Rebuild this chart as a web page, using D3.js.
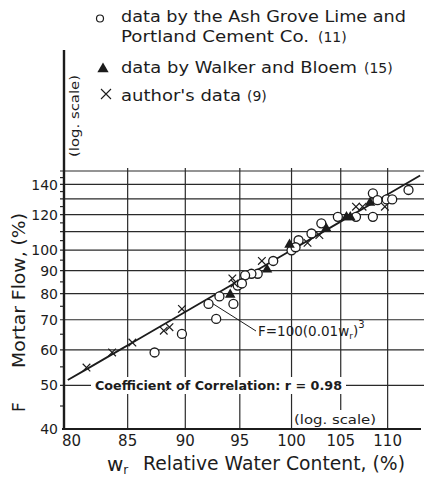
<!DOCTYPE html>
<html>
<head>
<meta charset="utf-8">
<script src="https://cdn.jsdelivr.net/npm/d3@7"></script>
<style>
  body { margin: 0; background: #fff; }
  svg { display: block; }
  text { font-family: "DejaVu Sans", sans-serif; fill: #1c1c1c; }
</style>
</head>
<body>
<svg id="chart" width="424" height="480"></svg>
<script>
// Axis ticks and grid values (both axes logarithmic)
const xTickValues = [80, 85, 90, 95, 100, 105, 110];
const xGridValues = [85, 90, 95, 100, 105, 110];
const yTickValues = [40, 50, 60, 70, 80, 90, 100, 120, 140];
const yGridValues = [50, 60, 70, 80, 90, 100, 110, 120, 130, 140, 150];
const yMinorValues = [45, 55, 65, 75, 85, 95, 105, 115, 125, 135, 145];

// Ash Grove Lime and Portland Cement Co. data: relative water content w_r (%), mortar flow F (%)
const ashGroveW = [112.3, 108.4, 108.9, 109.9, 110.5, 108.4, 106.6, 104.7, 103.0, 102.0, 100.7, 100.0, 100.4, 98.2, 96.7, 96.1, 95.5, 94.8, 95.2, 93.1, 92.1, 94.4, 92.8, 89.7, 87.3];
const ashGroveF = [136.1, 133.8, 129.2, 129.7, 129.7, 118.6, 118.6, 118.6, 114.7, 108.9, 105.2, 99.9, 101.5, 94.6, 88.6, 88.6, 87.9, 83.4, 84.3, 78.9, 75.9, 75.9, 70.3, 65.1, 59.2];

// Walker and Bloem data
const walkerW = [108.1, 105.6, 106.0, 103.5, 99.8, 97.6, 94.1];
const walkerF = [128.1, 119.0, 119.0, 112.3, 103.4, 91.0, 80.0];

// Author's data
const authorW = [81.6, 83.7, 85.4, 88.1, 88.6, 89.7, 94.3, 94.5, 97.1, 101.6, 102.8, 106.6, 107.3, 109.7];
const authorF = [54.8, 59.2, 62.3, 66.2, 67.4, 74.0, 86.5, 84.3, 94.6, 103.8, 108.0, 124.9, 124.9, 124.9];

// Fitted relation F = 100 (0.01 w_r)^3, drawn over this w_r range
const fitRange = [80.1, 113.6];
const fitLeaderW = 91.9;
const fit = w => 100 * Math.pow(0.01 * w, 3);

const svg = d3.select("#chart");
const ink = "#1c1c1c";

const x = d3.scaleLog().domain([79.8, 113.7]).range([64, 421]);
const y = d3.scaleLog().domain([40, 150]).range([429, 171]);

// grid
const grid = svg.append("g").attr("stroke", "#2a2a2a").attr("stroke-width", 1.2);
grid.selectAll("line.h").data(yGridValues).join("line")
  .attr("x1", 60).attr("x2", 424)
  .attr("y1", d => y(d)).attr("y2", d => y(d));
grid.selectAll("line.v").data(xGridValues).join("line")
  .attr("x1", d => x(d)).attr("x2", d => x(d))
  .attr("y1", y(150) - 3).attr("y2", y(40));
grid.selectAll("line.m").data(yMinorValues).join("line")
  .attr("x1", 60).attr("x2", 64)
  .attr("y1", d => y(d)).attr("y2", d => y(d));

// white bands behind the in-plot notes
svg.append("rect").attr("x", 91).attr("y", 377).attr("width", 255).attr("height", 17).attr("fill", "#fff");
svg.append("rect").attr("x", 293).attr("y", 410).attr("width", 85).attr("height", 18).attr("fill", "#fff");

// axes lines
svg.append("line").attr("x1", 64).attr("x2", 64).attr("y1", 50).attr("y2", 430)
  .attr("stroke", ink).attr("stroke-width", 2.4);
svg.append("line").attr("x1", 62).attr("x2", 421).attr("y1", y(40)).attr("y2", y(40))
  .attr("stroke", ink).attr("stroke-width", 2.2);

// tick labels
svg.append("g").selectAll("text").data(yTickValues).join("text")
  .attr("x", 58).attr("y", d => y(d)).attr("dy", "0.36em")
  .attr("text-anchor", "end").attr("font-size", 14)
  .text(d => d);
svg.append("g").selectAll("text").data(xTickValues).join("text")
  .attr("x", d => x(d) + (d === 80 ? 5 : 0)).attr("y", 446)
  .attr("text-anchor", "middle").attr("font-size", 15)
  .text(d => d);

// fitted line
const fitPts = d3.range(0, 21).map(i => {
  const w = fitRange[0] * Math.pow(fitRange[1] / fitRange[0], i / 20);
  return [w, fit(w)];
});
svg.append("path").datum(fitPts)
  .attr("d", d3.line().x(d => x(d[0])).y(d => y(d[1])))
  .attr("fill", "none").attr("stroke", ink).attr("stroke-width", 1.8);

// leader from the fitted line to the equation
svg.append("line")
  .attr("x1", x(fitLeaderW)).attr("y1", y(fit(fitLeaderW)))
  .attr("x2", 256).attr("y2", 331)
  .attr("stroke", ink).attr("stroke-width", 1);

// markers
const circleR = 4.5;
function drawCircles(g, pts) {
  g.selectAll("circle").data(pts).join("circle")
    .attr("cx", d => x(d[0])).attr("cy", d => y(d[1])).attr("r", circleR)
    .attr("fill", "#fff").attr("stroke", ink).attr("stroke-width", 1.3);
}
function drawCrosses(g, pts) {
  const s = 3.8;
  g.selectAll("path").data(pts).join("path")
    .attr("d", d => {
      const cx = x(d[0]), cy = y(d[1]);
      return `M${cx - s},${cy - s}L${cx + s},${cy + s}M${cx - s},${cy + s}L${cx + s},${cy - s}`;
    })
    .attr("stroke", ink).attr("stroke-width", 1.2).attr("fill", "none");
}
const tri = d3.symbol(d3.symbolTriangle).size(48);
function drawTriangles(g, pts) {
  g.selectAll("path").data(pts).join("path")
    .attr("transform", d => `translate(${x(d[0])},${y(d[1]) + 1})`)
    .attr("d", tri).attr("fill", ink);
}

drawCircles(svg.append("g"), d3.zip(ashGroveW, ashGroveF));
drawCrosses(svg.append("g"), d3.zip(authorW, authorF));
drawTriangles(svg.append("g"), d3.zip(walkerW, walkerF));

// in-plot notes
svg.append("text").attr("x", 95).attr("y", 390)
  .attr("font-size", 13).attr("font-weight", "bold")
  .attr("textLength", 247).attr("lengthAdjust", "spacingAndGlyphs")
  .text("Coefficient of Correlation: r = 0.98");

svg.append("text").attr("x", 294).attr("y", 424)
  .attr("font-size", 13).attr("textLength", 82).attr("lengthAdjust", "spacingAndGlyphs")
  .text("(log. scale)");

const eq = svg.append("text").attr("x", 258).attr("y", 336).attr("font-size", 13.5);
eq.append("tspan").text("F=100(0.01w");
eq.append("tspan").attr("font-size", 9).attr("dy", 3).text("r");
eq.append("tspan").attr("dy", -3).text(")");
eq.append("tspan").attr("font-size", 10).attr("dy", -8).text("3");

// axis titles
svg.append("text").attr("transform", "translate(79,116) rotate(-90)")
  .attr("text-anchor", "middle").attr("font-size", 13)
  .attr("textLength", 82).attr("lengthAdjust", "spacingAndGlyphs")
  .text("(log. scale)");

svg.append("text").attr("transform", "translate(25,368) rotate(-90)")
  .attr("font-size", 17).attr("textLength", 155).attr("lengthAdjust", "spacingAndGlyphs")
  .text("Mortar Flow, (%)");
svg.append("text").attr("transform", "translate(25,412) rotate(-90)")
  .attr("font-size", 17).text("F");

const wr = svg.append("text").attr("x", 107).attr("y", 471).attr("font-size", 20);
wr.append("tspan").text("w");
wr.append("tspan").attr("font-size", 12).attr("dy", 3).text("r");
svg.append("text").attr("x", 143).attr("y", 470).attr("font-size", 20)
  .attr("textLength", 262).attr("lengthAdjust", "spacingAndGlyphs")
  .text("Relative Water Content, (%)");

// legend
const legend = svg.append("g");
legend.append("circle").attr("cx", 100).attr("cy", 18.5).attr("r", 3.5)
  .attr("fill", "#fff").attr("stroke", ink).attr("stroke-width", 1.2);
legend.append("text").attr("x", 121).attr("y", 22).attr("font-size", 16)
  .attr("textLength", 285).attr("lengthAdjust", "spacingAndGlyphs")
  .text("data by the Ash Grove Lime and");
const l2 = legend.append("text").attr("x", 121).attr("y", 42).attr("font-size", 16);
l2.append("tspan").attr("textLength", 188).attr("lengthAdjust", "spacingAndGlyphs").text("Portland Cement Co.");
l2.append("tspan").attr("x", 318).attr("font-size", 14).text("(11)");
legend.append("path").attr("transform", "translate(103,69)")
  .attr("d", d3.symbol(d3.symbolTriangle).size(55)).attr("fill", ink);
const l3 = legend.append("text").attr("x", 121).attr("y", 73).attr("font-size", 16);
l3.append("tspan").attr("textLength", 236).attr("lengthAdjust", "spacingAndGlyphs").text("data by Walker and Bloem");
l3.append("tspan").attr("x", 364).attr("font-size", 14).text("(15)");
legend.append("path")
  .attr("d", "M101,89L111,99M101,99L111,89")
  .attr("stroke", ink).attr("stroke-width", 1.1);
const l4 = legend.append("text").attr("x", 121).attr("y", 101).attr("font-size", 16);
l4.append("tspan").attr("textLength", 120).attr("lengthAdjust", "spacingAndGlyphs").text("author's data");
l4.append("tspan").attr("x", 247).attr("font-size", 14).text("(9)");
</script>
</body>
</html>
